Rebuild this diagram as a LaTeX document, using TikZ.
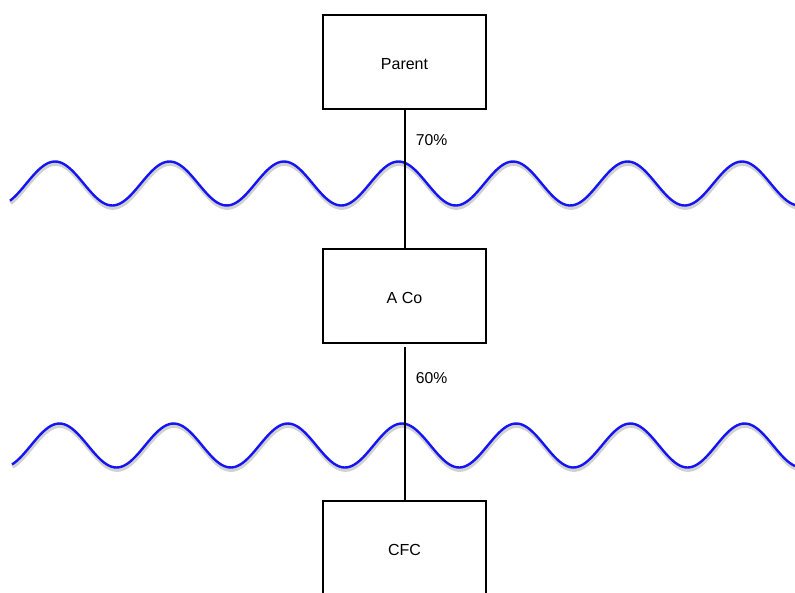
\documentclass[tikz,border=0pt]{standalone}
\usepackage{fontspec}
\setmainfont{Liberation Sans}
\usetikzlibrary{positioning}

\begin{document}
\begin{tikzpicture}[x=0.75pt,y=-0.75pt,line width=1.5pt,node distance=175.5pt,
	firm/.style={rectangle, draw, line width=1.4pt, minimum width=122pt, minimum height=70.5pt, text height=10.8pt, text depth=0pt, font=\fontsize{12}{14}\selectfont},
	pct/.style={anchor=west, xshift=4.5pt, font=\fontsize{11.8}{14}\selectfont},
	wave/.style={color={rgb,255:red,20;green,20;blue,245}, line width=1.8pt},
	waveshadow/.style={black!18, line width=2.8pt, shift={(0.5,2.5)}}]
				\useasboundingbox (0,0) rectangle (795,592);

				% the two wavy borders
				\foreach \yc/\xs/\ph/\per in {183.5/10/55/114.5, 445.5/12/59.4/114.2}{
					\draw[waveshadow] plot[domain=\xs:795, samples=300, smooth] (\x,{\yc-22*cos((\x-\ph)/\per*360)});
					\draw[wave] plot[domain=\xs:795, samples=300, smooth] (\x,{\yc-22*cos((\x-\ph)/\per*360)});
				}

				\node[firm]          (parent) at (404.5,62) {Parent};
				\node[firm]          (aco) at (404.5,296) {A Co};
				\node[firm]          (cfc) at (404.5,548) {CFC};

				\path (parent)  edge 			node[pct, pos=.22] {70\%}   (aco)
						  (aco)	edge[shorten <=2.5pt] 	node[pct, pos=.22] {60\%}   (cfc);

			\end{tikzpicture}
\end{document}
